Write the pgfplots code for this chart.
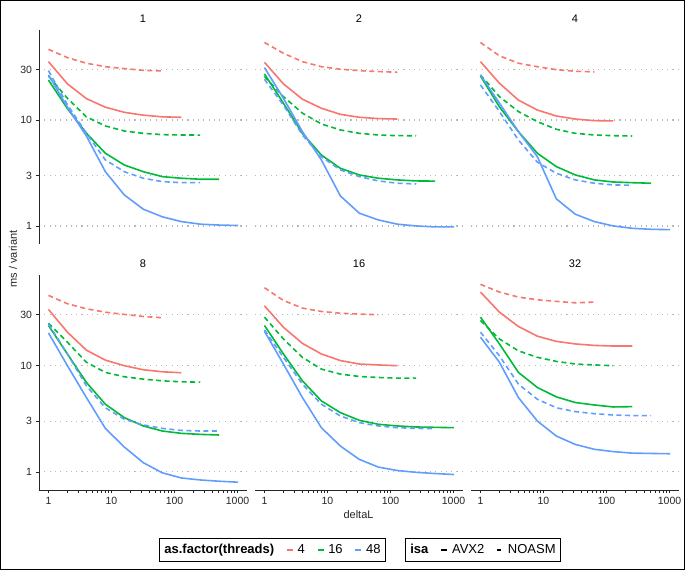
\documentclass[border=0pt]{standalone}
\usepackage{fontspec}
\setmainfont{Liberation Sans}
\usepackage{pgfplots}
\pgfplotsset{compat=1.18}

\definecolor{c4}{HTML}{F8766D}
\definecolor{c16}{HTML}{00BA38}
\definecolor{c48}{HTML}{619CFF}

\begin{document}
\begin{tikzpicture}
\useasboundingbox (0pt,0pt) rectangle (685pt,570pt);
\draw[black, line width=1.2pt] (0.6pt,0.6pt) rectangle (684.4pt,569.4pt);

\begin{scope}
\pgfplotsset{every axis/.append style={
    scale only axis, width=208pt, height=214pt,
    xmode=log, ymode=log,
    xmin=0.708, xmax=1413, ymin=0.676, ymax=70.6,
    axis x line*=bottom, axis y line*=left,
    axis line style={-, black!85, line width=0.7pt},
    xtick={1,10,100,1000}, xticklabels={1,10,100,1000},
    ytick={1,3,10,30}, yticklabels={1,3,10,30},
    tick align=outside, major tick length=3.5pt,
    tick style={black!85, line width=0.7pt},
    ymajorgrids,
    major grid style={draw=black!28, line width=1.1pt, dash pattern=on 1.1pt off 4.2pt},
    tick label style={font=\fontsize{10.5}{12}\selectfont, text=black!85},
    title style={at={(0.5,1)}, anchor=center, yshift=5pt, font=\fontsize{11}{13}\selectfont},
    no markers,
  }}

% ---- top row: threads 1, 2, 4 ----
\begin{axis}[xtick=\empty, x axis line style={draw=none},
  at={(39pt,326pt)}, anchor=south west, title={1}]
\addplot[c4, line width=1.6pt] coordinates {(1,35.5)(2,21.9)(4,15.9)(8,13.2)(16,11.8)(32,11.1)(64,10.7)(128,10.6)};
\addplot[c4, line width=1.6pt, dash pattern=on 5pt off 3.5pt] coordinates {(1,46.4)(2,38.7)(4,34.3)(8,31.8)(16,30.5)(32,29.4)(64,29.0)};
\addplot[c16, line width=1.6pt] coordinates {(1,23.8)(2,12.8)(4,7.5)(8,4.85)(16,3.76)(32,3.25)(64,2.92)(128,2.82)(256,2.76)(512,2.76)};
\addplot[c16, line width=1.6pt, dash pattern=on 5pt off 3.5pt] coordinates {(1,26)(2,16.0)(4,10.7)(8,8.78)(16,7.87)(32,7.48)(64,7.27)(128,7.22)(256,7.2)};
\addplot[c48, line width=1.6pt] coordinates {(1,26.6)(2,13.2)(4,7.06)(8,3.25)(16,1.96)(32,1.44)(64,1.22)(128,1.10)(256,1.04)(512,1.02)(1024,1.01)};
\addplot[c48, line width=1.6pt, dash pattern=on 5pt off 3.5pt] coordinates {(1,29.2)(2,13.9)(4,7.5)(8,4.2)(16,3.25)(32,2.82)(64,2.62)(128,2.56)(256,2.56)};
\end{axis}

\begin{axis}[xtick=\empty, x axis line style={draw=none},
  yticklabels={}, y axis line style={draw=none}, ytick style={draw=none},
  at={(255pt,326pt)}, anchor=south west, title={2}]
\addplot[c4, line width=1.6pt] coordinates {(1,35.0)(2,21.9)(4,15.7)(8,12.9)(16,11.3)(32,10.6)(64,10.3)(128,10.2)};
\addplot[c4, line width=1.6pt, dash pattern=on 5pt off 3.5pt] coordinates {(1,53.8)(2,42.6)(4,35.5)(8,31.8)(16,30.1)(32,29.2)(64,28.6)(128,28.2)};
\addplot[c16, line width=1.6pt] coordinates {(1,27.2)(2,14.4)(4,7.48)(8,4.67)(16,3.5)(32,3.03)(64,2.82)(128,2.72)(256,2.66)(512,2.65)};
\addplot[c16, line width=1.6pt, dash pattern=on 5pt off 3.5pt] coordinates {(1,25.7)(2,16.6)(4,11.6)(8,9.17)(16,8.05)(32,7.48)(64,7.22)(128,7.11)(256,7.1)};
\addplot[c48, line width=1.6pt] coordinates {(1,31.2)(2,16)(4,7.76)(8,4.2)(16,1.92)(32,1.32)(64,1.14)(128,1.04)(256,1.0)(512,0.98)(1024,0.98)};
\addplot[c48, line width=1.6pt, dash pattern=on 5pt off 3.5pt] coordinates {(1,24.2)(2,13.8)(4,7.22)(8,4.5)(16,3.38)(32,2.92)(64,2.66)(128,2.53)(256,2.49)};
\end{axis}

\begin{axis}[xtick=\empty, x axis line style={draw=none},
  yticklabels={}, y axis line style={draw=none}, ytick style={draw=none},
  at={(471pt,326pt)}, anchor=south west, title={4}]
\addplot[c4, line width=1.6pt] coordinates {(1,35.5)(2,22.2)(4,15.4)(8,12.4)(16,10.9)(32,10.2)(64,9.85)(128,9.8)};
\addplot[c4, line width=1.6pt, dash pattern=on 5pt off 3.5pt] coordinates {(1,53.8)(2,40.3)(4,34.3)(8,31.8)(16,29.8)(32,28.8)(64,28.4)};
\addplot[c16, line width=1.6pt] coordinates {(1,26.0)(2,13.3)(4,7.76)(8,4.85)(16,3.63)(32,3.03)(64,2.72)(128,2.6)(256,2.56)(512,2.53)};
\addplot[c16, line width=1.6pt, dash pattern=on 5pt off 3.5pt] coordinates {(1,26.6)(2,16.6)(4,12.0)(8,9.64)(16,8.17)(32,7.48)(64,7.22)(128,7.11)(256,7.05)};
\addplot[c48, line width=1.6pt] coordinates {(1,26.6)(2,14.4)(4,7.76)(8,4.5)(16,1.8)(32,1.29)(64,1.1)(128,1.0)(256,0.95)(512,0.93)(1024,0.923)};
\addplot[c48, line width=1.6pt, dash pattern=on 5pt off 3.5pt] coordinates {(1,21.4)(2,12.0)(4,6.47)(8,4.0)(16,3.14)(32,2.72)(64,2.53)(128,2.44)(256,2.42)};
\end{axis}

% ---- bottom row: threads 8, 16, 32 ----
\begin{axis}[at={(39pt,80pt)}, anchor=south west, height=215pt, title={8}]
\addplot[c4, line width=1.6pt] coordinates {(1,33.5)(2,20.5)(4,13.9)(8,11.2)(16,9.93)(32,9.1)(64,8.71)(128,8.53)};
\addplot[c4, line width=1.6pt, dash pattern=on 5pt off 3.5pt] coordinates {(1,45.4)(2,37.9)(4,34.0)(8,31.6)(16,30.1)(32,28.8)(64,28.0)};
\addplot[c16, line width=1.6pt] coordinates {(1,23.7)(2,12.8)(4,6.92)(8,4.32)(16,3.23)(32,2.7)(64,2.42)(128,2.3)(256,2.25)(512,2.22)};
\addplot[c16, line width=1.6pt, dash pattern=on 5pt off 3.5pt] coordinates {(1,24.9)(2,16.5)(4,10.7)(8,8.59)(16,7.82)(32,7.43)(64,7.16)(128,7.01)(256,6.96)};
\addplot[c48, line width=1.6pt] coordinates {(1,20.2)(2,9.93)(4,4.99)(8,2.56)(16,1.71)(32,1.22)(64,0.98)(128,0.877)(256,0.84)(512,0.817)(1024,0.80)};
\addplot[c48, line width=1.6pt, dash pattern=on 5pt off 3.5pt] coordinates {(1,24.5)(2,12.8)(4,6.43)(8,4.0)(16,3.12)(32,2.76)(64,2.56)(128,2.45)(256,2.42)(512,2.42)};
\end{axis}

\begin{axis}[yticklabels={}, y axis line style={draw=none}, ytick style={draw=none},
  at={(255pt,80pt)}, anchor=south west, height=215pt, title={16}]
\addplot[c4, line width=1.6pt] coordinates {(1,36.3)(2,22.8)(4,16.1)(8,12.8)(16,11.1)(32,10.3)(64,10.1)(128,9.93)};
\addplot[c4, line width=1.6pt, dash pattern=on 5pt off 3.5pt] coordinates {(1,53.6)(2,40.7)(4,34.5)(8,32.1)(16,30.9)(32,30.3)(64,29.9)};
\addplot[c16, line width=1.6pt] coordinates {(1,23.7)(2,12.8)(4,7.17)(8,4.64)(16,3.6)(32,3.05)(64,2.8)(128,2.7)(256,2.64)(512,2.62)(1024,2.6)};
\addplot[c16, line width=1.6pt, dash pattern=on 5pt off 3.5pt] coordinates {(1,28.4)(2,17.7)(4,11.9)(8,9.23)(16,8.28)(32,7.87)(64,7.7)(128,7.59)(256,7.59)};
\addplot[c48, line width=1.6pt] coordinates {(1,20.9)(2,10.3)(4,4.99)(8,2.6)(16,1.75)(32,1.31)(64,1.11)(128,1.03)(256,0.99)(512,0.965)(1024,0.944)};
\addplot[c48, line width=1.6pt, dash pattern=on 5pt off 3.5pt] coordinates {(1,21.5)(2,11.9)(4,6.67)(8,4.32)(16,3.35)(32,2.9)(64,2.7)(128,2.6)(256,2.56)(512,2.55)};
\end{axis}

\begin{axis}[yticklabels={}, y axis line style={draw=none}, ytick style={draw=none},
  at={(471pt,80pt)}, anchor=south west, height=215pt, title={32}]
\addplot[c4, line width=1.6pt] coordinates {(1,48.8)(2,31.6)(4,23.2)(8,18.8)(16,16.8)(32,15.9)(64,15.4)(128,15.2)(256,15.2)};
\addplot[c4, line width=1.6pt, dash pattern=on 5pt off 3.5pt] coordinates {(1,57.7)(2,48.8)(4,43.8)(8,41.3)(16,39.9)(32,38.7)(64,39.3)};
\addplot[c16, line width=1.6pt] coordinates {(1,28.4)(2,15.9)(4,8.59)(8,6.2)(16,5.06)(32,4.48)(64,4.25)(128,4.07)(256,4.1)};
\addplot[c16, line width=1.6pt, dash pattern=on 5pt off 3.5pt] coordinates {(1,26.4)(2,17.7)(4,13.7)(8,11.9)(16,10.9)(32,10.3)(64,10.1)(128,9.93)};
\addplot[c48, line width=1.6pt] coordinates {(1,18.4)(2,10.7)(4,4.99)(8,3.0)(16,2.17)(32,1.81)(64,1.63)(128,1.55)(256,1.5)(512,1.49)(1024,1.48)};
\addplot[c48, line width=1.6pt, dash pattern=on 5pt off 3.5pt] coordinates {(1,20.5)(2,12.3)(4,6.67)(8,4.81)(16,4.0)(32,3.68)(64,3.52)(128,3.42)(256,3.38)(512,3.38)};
\end{axis}
\end{scope}

% axis titles
\node[rotate=90, font=\fontsize{11}{13}\selectfont, text=black!85] at (13pt,311pt) {ms / variant};
\node[font=\fontsize{11}{13}\selectfont, text=black!85] at (358.5pt,55pt) {deltaL};

% legends
\begin{axis}[hide axis, scale only axis, width=1pt, height=1pt,
  at={(272.5pt,20pt)}, anchor=center, xmin=0, xmax=1, ymin=0, ymax=1,
  legend columns=-1,
  legend style={at={(0.5,0.5)}, anchor=center, draw=black, line width=1pt,
    font=\fontsize{13}{15}\selectfont, inner xsep=3pt, inner ysep=4pt,
    /tikz/every even column/.append style={column sep=8pt}},
  legend image code/.code={\draw[#1] (2pt,0pt) -- (8pt,0pt); \path (0pt,0pt) (10pt,0pt);}]
\addlegendimage{empty legend}\addlegendentry{\textbf{as.factor(threads)}}
\addlegendimage{c4, line width=1.4pt}\addlegendentry{4}
\addlegendimage{c16, line width=1.4pt}\addlegendentry{16}
\addlegendimage{c48, line width=1.4pt}\addlegendentry{48}
\end{axis}

\begin{axis}[hide axis, scale only axis, width=1pt, height=1pt,
  at={(483pt,20pt)}, anchor=center, xmin=0, xmax=1, ymin=0, ymax=1,
  legend columns=-1,
  legend style={at={(0.5,0.5)}, anchor=center, draw=black, line width=1pt,
    font=\fontsize{13}{15}\selectfont, inner xsep=3pt, inner ysep=4pt,
    /tikz/every even column/.append style={column sep=8pt}},
  legend image code/.code={\draw[#1] (2pt,0pt) -- (8pt,0pt); \path (0pt,0pt) (10pt,0pt);}]
\addlegendimage{empty legend}\addlegendentry{\textbf{isa}}
\addlegendimage{black, line width=1.6pt}\addlegendentry{AVX2}
\addlegendimage{black, line width=1.6pt, dash pattern=on 4pt off 3pt}\addlegendentry{NOASM}
\end{axis}
\end{tikzpicture}
\end{document}
